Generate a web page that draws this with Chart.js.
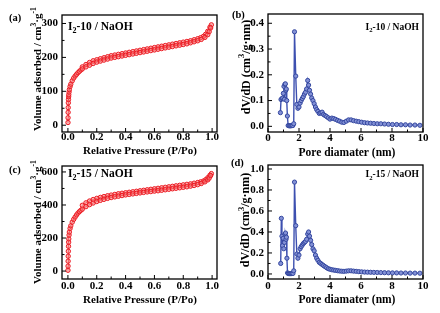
<!DOCTYPE html>
<html><head><meta charset="utf-8">
<script src="https://cdn.jsdelivr.net/npm/chart.js@4"></script>
<style>
html,body{margin:0;padding:0;background:#fff;}
body{width:440px;height:313px;position:relative;overflow:hidden;}
canvas{position:absolute;}
</style></head><body>
<canvas id="ca" width="222" height="160" style="left:0;top:0"></canvas>
<canvas id="cb" width="220" height="160" style="left:220px;top:0"></canvas>
<canvas id="cc" width="222" height="163" style="left:0;top:150px"></canvas>
<canvas id="cd" width="220" height="163" style="left:220px;top:150px"></canvas>
<script>
// ---------- DATA ----------
// N2 isotherms, relative pressure P/Po
const adsP = [0.0005,0.001,0.0015,0.002,0.003,0.004,0.005,0.006,0.008,0.01,
  0.015,0.02,0.03,0.04,0.05,0.06,0.07,0.08,0.09,0.1,
  0.125,0.15,0.175,0.2,0.225,0.25,0.275,0.3,0.325,0.35,
  0.375,0.4,0.425,0.45,0.475,0.5,0.525,0.55,0.575,0.6,
  0.625,0.65,0.675,0.7,0.725,0.75,0.775,0.8,0.825,0.85,
  0.875,0.9,0.925,0.95,0.97,0.98,0.99];
const desP = [0.995,0.985,0.97,0.955,0.94,0.92,0.9,0.875,0.85,0.825,0.8,0.775,0.75,0.725,0.7,
  0.675,0.65,0.625,0.6,0.575,0.55,0.525,0.5,0.475,0.45,0.425,0.4,0.375,0.35,0.325,0.3,
  0.275,0.25,0.225,0.2,0.175,0.15,0.125,0.1];
// I2-10 / NaOH (cm3/g)
const adsV10 = [8,22,38,52,66,76,84,90,98,105,
  114,121,131,139,145,150,155,159,163,166,
  172,177,182,186,189,192,195,198,200,202,
  204,206,208,210,212,214,216,218,220,222,
  224,226,228,230,232,234,236,238,240,243,
  246,249,253,259,267,276,287];
const desV10 = [296,289,277,268,262,258,255,252,249,247,245,243,241,239,237,
  235,233,231,229,227,225,223,221,219,217,215,213,211,209,207,205,
  202,199,196,193,190,185,179,172];
// I2-15 / NaOH (cm3/g)
const adsV15 = [5,30,60,90,120,150,175,195,218,236,
  258,274,296,313,327,340,351,360,368,375,
  390,402,412,421,428,434,440,445,449,453,
  457,461,464,467,470,473,476,479,481,484,
  486,489,492,495,498,501,504,507,510,514,
  518,523,530,540,552,563,578];
const desV15 = [590,580,565,553,545,540,536,532,528,525,522,519,516,513,510,
  507,504,501,498,495,492,489,486,483,480,477,474,471,468,464,460,
  456,451,446,440,433,424,413,398];
// Pore size distributions
const poreD10 = [0.8,0.84,0.9,0.95,0.99,1.03,1.06,1.09,1.12,1.15,1.18,1.21,1.25,1.3,1.36,1.42,1.48,1.54,1.6,1.66,
  1.71,1.79,1.86,1.93,2.0,2.07,2.14,2.21,2.28,2.35,2.42,2.49,2.56,2.62,2.68,2.75,2.82,2.9,2.98,3.06,
  3.14,3.22,3.31,3.4,3.49,3.58,3.68,3.78,3.89,4.0,4.12,4.24,4.36,4.49,4.62,4.76,4.9,5.05,5.2,5.36,
  5.52,5.69,5.86,6.04,6.23,6.42,6.62,6.83,7.05,7.28,7.52,7.77,8.03,8.3,8.58,8.87,9.17,9.48,9.8];
const dVdD10 = [0.053,0.104,0.108,0.11,0.128,0.155,0.105,0.163,0.165,0.14,0.145,0.1,0.04,0.003,0.002,0.002,0.002,0.003,0.003,0.01,
  0.367,0.195,0.085,0.07,0.075,0.09,0.1,0.108,0.115,0.125,0.132,0.145,0.178,0.16,0.14,0.125,0.11,0.1,0.088,0.075,
  0.065,0.058,0.05,0.052,0.055,0.046,0.042,0.038,0.033,0.028,0.032,0.03,0.027,0.023,0.02,0.016,0.015,0.02,0.025,0.025,
  0.022,0.02,0.018,0.016,0.014,0.013,0.012,0.011,0.01,0.01,0.009,0.008,0.007,0.007,0.006,0.006,0.005,0.005,0.004];
const poreD15 = [0.82,0.86,0.9,0.94,0.98,1.02,1.06,1.1,1.13,1.16,1.19,1.22,1.26,1.31,1.37,1.43,1.49,1.55,1.61,1.66,
  1.71,1.79,1.86,1.93,2.0,2.07,2.14,2.21,2.28,2.35,2.42,2.49,2.56,2.62,2.68,2.75,2.82,2.9,2.98,3.06,
  3.14,3.22,3.31,3.4,3.49,3.58,3.68,3.78,3.89,4.0,4.12,4.24,4.36,4.49,4.62,4.76,4.9,5.05,5.2,5.36,
  5.52,5.69,5.86,6.04,6.23,6.42,6.62,6.83,7.05,7.28,7.52,7.77,8.03,8.3,8.58,8.87,9.17,9.48,9.8];
const dVdD15 = [0.10,0.53,0.36,0.27,0.34,0.24,0.30,0.38,0.39,0.33,0.35,0.15,0.01,0.004,0.003,0.003,0.003,0.004,0.005,0.03,
  0.875,0.46,0.19,0.15,0.18,0.24,0.26,0.275,0.29,0.30,0.31,0.33,0.38,0.40,0.36,0.32,0.28,0.24,0.22,0.18,
  0.15,0.13,0.11,0.10,0.09,0.08,0.07,0.06,0.05,0.045,0.04,0.037,0.034,0.031,0.028,0.026,0.025,0.027,0.03,0.03,
  0.027,0.025,0.022,0.02,0.018,0.017,0.016,0.015,0.014,0.013,0.012,0.011,0.01,0.01,0.009,0.009,0.008,0.008,0.007];
// Tick labels / texts
const panelLetters = ['(a)','(b)','(c)','(d)'];
const sampleNames = [['I','2','-10 / NaOH'],['I','2','-10 / NaOH'],['I','2','-15 / NaOH'],['I','2','-15 / NaOH']];
const xTitleIso = 'Relative Pressure (P/Po)';
const xTitlePore = 'Pore diamater (nm)';
const yTitleIso = [{t:'Volume adsorbed / cm'},{t:'3',s:'sup'},{t:'·g'},{t:'-1',s:'sup'}];
const yTitlePore = [{t:'dV/dD (cm'},{t:'3',s:'sup'},{t:'/g·nm)'}];

// ---------- RENDER ----------
const FAM = '"Liberation Serif","Times New Roman","DejaVu Serif",serif';
const fnt = s => 'bold ' + s + 'px ' + FAM;
function pts(xs, ys){ return xs.map((x,i)=>({x:x, y:ys[i]})); }
function drawRich(ctx, segs, size, x, y, align, rot){
  ctx.save(); ctx.translate(x,y); if (rot) ctx.rotate(rot);
  let w = 0;
  for (const s of segs){ ctx.font = fnt(s.s ? size*0.7 : size); w += ctx.measureText(s.t).width; }
  let cx = align==='center' ? -w/2 : align==='right' ? -w : 0;
  ctx.textAlign='left'; ctx.textBaseline='alphabetic'; ctx.fillStyle='#000';
  for (const s of segs){
    const sz = s.s ? size*0.7 : size; ctx.font = fnt(sz);
    const dy = s.s==='sup' ? -size*0.42 : s.s==='sub' ? size*0.28 : 0;
    ctx.fillText(s.t, cx, dy); cx += ctx.measureText(s.t).width;
  }
  ctx.restore();
}
const decor = {
  id:'decor',
  afterDraw(chart){
    const o = chart.options.plugins.decor; const ctx = chart.ctx; const a = chart.chartArea;
    const bx = o.box.x, by = o.box.y;
    ctx.save();
    ctx.strokeStyle='#000'; ctx.lineWidth=1;
    const xs = chart.scales.x, ys = chart.scales.y;
    function ticksFor(sc, step){
      const out=[]; const start = Math.ceil(sc.min/step - 1e-9);
      for (let k=start; k*step <= sc.max + 1e-9; k++){ out.push(k*step); }
      return out;
    }
    ctx.beginPath();
    for (const v of ticksFor(xs, o.xMinor)){
      const px = xs.getPixelForValue(v); const major = Math.abs(Math.round(v/o.xMajor)*o.xMajor - v) < 1e-6;
      const L = major ? 4 : 2.5;
      ctx.moveTo(px, a.bottom); ctx.lineTo(px, a.bottom - L);
    }
    for (const v of ticksFor(ys, o.yMinor)){
      const py = ys.getPixelForValue(v); const major = Math.abs(Math.round(v/o.yMajor)*o.yMajor - v) < 1e-6;
      const L = major ? 4 : 2.5;
      ctx.moveTo(a.left, py); ctx.lineTo(a.left + L, py);
    }
    ctx.stroke();
    ctx.lineWidth=1.3;
    ctx.strokeRect(a.left, a.top, a.right-a.left, a.bottom-a.top);
    // axis titles
    drawRich(ctx, [{t:o.xTitle}], o.xTitleSize, o.xTitlePos[0]-bx, o.xTitlePos[1]-by, 'center', 0);
    drawRich(ctx, o.yTitle, o.yTitleSize, o.yTitlePos[0]-bx, o.yTitlePos[1]-by, 'center', -Math.PI/2);
    // panel letter
    drawRich(ctx, [{t:o.letter}], 10.5, o.letterPos[0]-bx, o.letterPos[1]-by, 'left', 0);
    // sample name with subscript
    const n = o.name;
    drawRich(ctx, [{t:n[0]},{t:n[1],s:'sub'},{t:n[2]}], o.nameSize, o.namePos[0]-bx, o.namePos[1]-by, o.nameAlign, 0);
    ctx.restore();
  }
};

function build(id, P){
  const box = P.box, area = P.area;
  const ctx = document.getElementById(id);
  return new Chart(ctx, {
    type:'scatter',
    data:{datasets:P.datasets},
    options:{
      responsive:false, animation:false, devicePixelRatio:1, events:[],
      layout:{padding:{left:0, top:area.t-box.y, right:box.x+box.w-area.r, bottom:0}},
      plugins:{legend:{display:false}, tooltip:{enabled:false}, decor:P.decor},
      scales:{
        x:{type:'linear', position:'bottom', min:P.x.min, max:P.x.max,
           grid:{display:false, drawTicks:false}, border:{display:false},
           ticks:{stepSize:P.x.step, includeBounds:false, maxRotation:0, autoSkip:false, padding:P.x.pad, color:'#000',
             font:{family:FAM, size:11, weight:'bold', lineHeight:1},
             callback:v=>v.toFixed(P.x.dec)},
           afterFit:s=>{ s.height = box.y+box.h-area.b; }},
        y:{type:'linear', position:'left', min:P.y.min, max:P.y.max,
           grid:{display:false, drawTicks:false}, border:{display:false},
           ticks:{stepSize:P.y.step, includeBounds:false, autoSkip:false, padding:P.y.pad, color:'#000',
             font:{family:FAM, size:11, weight:'bold', lineHeight:1},
             callback:v=>v.toFixed(P.y.dec)},
           afterFit:s=>{ s.width = area.l-box.x; }}
      }
    },
    plugins:[decor]
  });
}

const RED='#ec1c24';
function isoSet(xs, ys){ return {data:pts(xs,ys), showLine:true, borderColor:RED, borderWidth:0.8,
  pointRadius:2.2, pointBorderWidth:1, pointBorderColor:RED, pointBackgroundColor:'rgba(245,120,120,0.55)', pointStyle:'circle'}; }
const BLUE='#3d50b0';
function poreSet(xs, ys){ return {data:pts(xs,ys), showLine:true, borderColor:BLUE, borderWidth:1.4,
  pointRadius:2.1, pointBorderWidth:1, pointBorderColor:'#34479f', pointBackgroundColor:'#8391d6', pointStyle:'circle'}; }

build('ca', {box:{x:0,y:0,w:222,h:160}, area:{l:62,r:218,t:15,b:132},
  datasets:[isoSet(adsP,adsV10), isoSet(desP,desV10)],
  x:{min:-0.041,max:1.034,step:0.2,dec:1,pad:0}, y:{min:-20,max:325,step:100,dec:0,pad:4},
  decor:{box:{x:0,y:0}, xMajor:0.2,xMinor:0.1,yMajor:100,yMinor:50,
    xTitle:xTitleIso, xTitleSize:11, xTitlePos:[140,154],
    yTitle:yTitleIso, yTitleSize:11, yTitlePos:[41,69],
    letter:panelLetters[0], letterPos:[9,21], name:sampleNames[0], nameSize:11.5, namePos:[68,29.5], nameAlign:'left'}});

build('cb', {box:{x:220,y:0,w:220,h:160}, area:{l:268,r:423,t:14,b:132},
  datasets:[poreSet(poreD10,dVdD10)],
  x:{min:0,max:10,step:2,dec:0,pad:1}, y:{min:-0.022,max:0.436,step:0.1,dec:1,pad:4},
  decor:{box:{x:220,y:0}, xMajor:2,xMinor:1,yMajor:0.1,yMinor:0.05,
    xTitle:xTitlePore, xTitleSize:11.5, xTitlePos:[347,155.5],
    yTitle:yTitlePore, yTitleSize:12, yTitlePos:[249.5,67],
    letter:panelLetters[1], letterPos:[232,18], name:sampleNames[1], nameSize:9.5, namePos:[419,29.5], nameAlign:'right'}});

build('cc', {box:{x:0,y:150,w:222,h:163}, area:{l:62,r:218,t:166,b:279},
  datasets:[isoSet(adsP,adsV15), isoSet(desP,desV15)],
  x:{min:-0.041,max:1.034,step:0.2,dec:1,pad:1.5}, y:{min:-48,max:636,step:200,dec:0,pad:4},
  decor:{box:{x:0,y:150}, xMajor:0.2,xMinor:0.1,yMajor:200,yMinor:100,
    xTitle:xTitleIso, xTitleSize:11, xTitlePos:[140,303],
    yTitle:yTitleIso, yTitleSize:11, yTitlePos:[41,222],
    letter:panelLetters[2], letterPos:[9,173], name:sampleNames[2], nameSize:11.5, namePos:[68,177], nameAlign:'left'}});

build('cd', {box:{x:220,y:150,w:220,h:163}, area:{l:268,r:423,t:165,b:279},
  datasets:[poreSet(poreD15,dVdD15)],
  x:{min:0,max:10,step:2,dec:0,pad:2}, y:{min:-0.048,max:1.038,step:0.2,dec:1,pad:4},
  decor:{box:{x:220,y:150}, xMajor:2,xMinor:1,yMajor:0.2,yMinor:0.1,
    xTitle:xTitlePore, xTitleSize:11.5, xTitlePos:[347,303],
    yTitle:yTitlePore, yTitleSize:12, yTitlePos:[249,220],
    letter:panelLetters[3], letterPos:[231,166], name:sampleNames[3], nameSize:9.5, namePos:[419,177], nameAlign:'right'}});
</script>
</body></html>
